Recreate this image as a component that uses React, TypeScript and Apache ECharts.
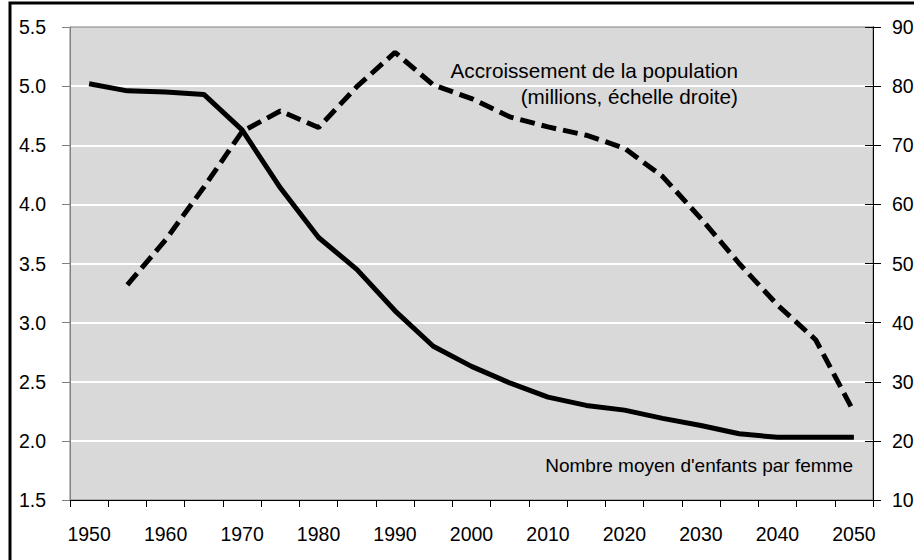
import React, { useEffect, useRef } from "react";
import * as echarts from "echarts";

const years = ["1950","1955","1960","1965","1970","1975","1980","1985","1990","1995","2000","2005","2010","2015","2020","2025","2030","2035","2040","2045","2050"];
const fertility = [5.02, 4.96, 4.95, 4.93, 4.63, 4.14, 3.72, 3.45, 3.10, 2.80, 2.63, 2.49, 2.37, 2.30, 2.26, 2.19, 2.13, 2.06, 2.03, 2.03, 2.03];
const growth = [null, 46.4, 54.0, 62.9, 72.3, 75.8, 73.0, 79.9, 85.7, 80.2, 77.9, 74.8, 73.1, 71.7, 69.5, 64.7, 57.6, 50.0, 43.0, 37.1, 24.9];
const growthLabel = ["Accroissement de la population", "(millions, échelle droite)"];
const fertilityLabel = "Nombre moyen d'enfants par femme";

const FONT = "'Liberation Sans', Arial, sans-serif";

export default function App() {
  const ref = useRef<HTMLDivElement>(null);
  useEffect(() => {
    if (!ref.current) return;
    const chart = echarts.init(ref.current, null, { renderer: "svg" });
    chart.setOption({
      animation: false,
      backgroundColor: "#ffffff",
      textStyle: { fontFamily: FONT },
      grid: {
        left: 70, right: 41, top: 27, bottom: 60,
        containLabel: false,
        outerBoundsMode: "none",
        show: true, backgroundColor: "#d9d9d9", borderColor: "#808080", borderWidth: 1,
      },
      xAxis: {
        type: "category",
        data: years,
        boundaryGap: true,
        axisLine: { lineStyle: { color: "#000", width: 1 } },
        axisTick: { show: true, interval: 0, length: 7, lineStyle: { color: "#000" } },
        axisLabel: { interval: 1, color: "#000", fontSize: 19.5, fontFamily: FONT, margin: 24 },
        splitLine: { show: false },
      },
      yAxis: [
        {
          type: "value", position: "left", min: 1.5, max: 5.5, interval: 0.5,
          axisLine: { show: true, lineStyle: { color: "#808080", width: 1 } },
          axisTick: { show: true, length: 8, lineStyle: { color: "#808080" } },
          axisLabel: { color: "#000", fontSize: 19.5, fontFamily: FONT, margin: 24, formatter: (v: number) => v.toFixed(1) },
          splitLine: { show: true, showMinLine: false, showMaxLine: false, lineStyle: { color: "#ffffff", width: 2 } },
        },
        {
          type: "value", position: "right", min: 10, max: 90, interval: 10,
          axisLine: { show: true, lineStyle: { color: "#000", width: 1 } },
          axisTick: { show: true, length: 8, lineStyle: { color: "#000" } },
          axisLabel: { color: "#000", fontSize: 19.5, fontFamily: FONT, margin: 19 },
          splitLine: { show: false },
        },
        {
          type: "value", position: "right", min: 10, max: 90, interval: 10,
          axisLine: { show: true, lineStyle: { color: "#000", width: 1 } },
          axisTick: { show: true, inside: true, length: 8, lineStyle: { color: "#000" } },
          axisLabel: { show: false },
          splitLine: { show: false },
        },
      ],
      series: [
        {
          name: "Nombre moyen d'enfants par femme",
          type: "line", yAxisIndex: 0, data: fertility,
          showSymbol: false, symbol: "none",
          lineStyle: { color: "#000", width: 5, type: "solid" },
          z: 3,
        },
        {
          name: "Accroissement de la population",
          type: "line", yAxisIndex: 1, data: growth,
          showSymbol: false, symbol: "none", connectNulls: false,
          lineStyle: { color: "#000", width: 5, type: [15, 7] },
          z: 3,
        },
      ],
      graphic: [
        {
          type: "rect", shape: { x: 10, y: 3, width: 1000, height: 1000 },
          style: { fill: "none", stroke: "#000", lineWidth: 3 }, silent: true,
        },
        {
          type: "text", x: 738, y: 70,
          style: { text: growthLabel[0], fill: "#000", font: `20.7px ${FONT}`, textAlign: "right", textVerticalAlign: "middle" },
        },
        {
          type: "text", x: 738, y: 96,
          style: { text: growthLabel[1], fill: "#000", font: `20.7px ${FONT}`, textAlign: "right", textVerticalAlign: "middle" },
        },
        {
          type: "text", x: 853, y: 465,
          style: { text: fertilityLabel, fill: "#000", font: `19px ${FONT}`, textAlign: "right", textVerticalAlign: "middle" },
        },
      ],
    });
    return () => chart.dispose();
  }, []);
  return (
    <div style={{ position: "absolute", left: 0, top: 0, width: 914, height: 560, overflow: "hidden" }}>
      <div ref={ref} style={{ width: 914, height: 560 }} />
    </div>
  );
}
